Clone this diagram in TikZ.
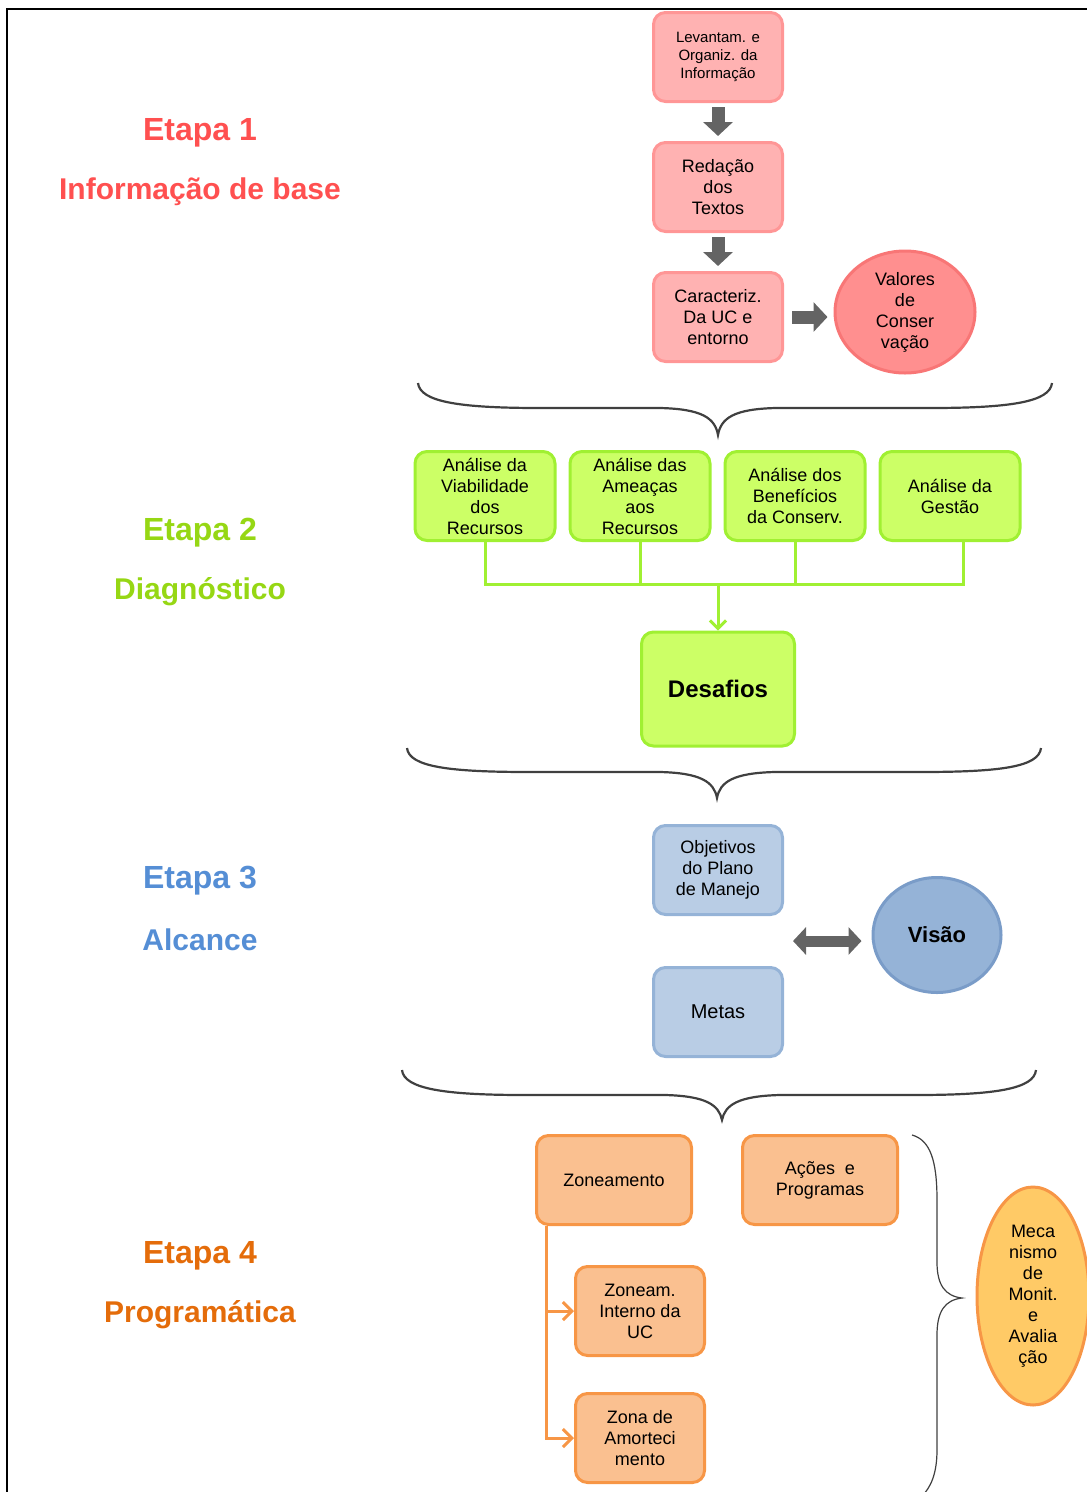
\documentclass[tikz,border=0pt]{standalone}
\usepackage{fontspec}
\setmainfont{Liberation Sans}
\usetikzlibrary{positioning,arrows.meta,shapes.geometric,calc}
\definecolor{redtxt}{RGB}{255,80,80}
\definecolor{greentxt}{RGB}{150,215,20}
\definecolor{bluetxt}{RGB}{85,142,213}
\definecolor{orangetxt}{RGB}{228,108,10}
\definecolor{pinkfill}{RGB}{255,178,178}
\definecolor{pinkline}{RGB}{255,150,150}
\definecolor{valfill}{RGB}{255,143,143}
\definecolor{valline}{RGB}{248,118,118}
\definecolor{limefill}{RGB}{204,255,102}
\definecolor{limeline}{RGB}{160,240,50}
\definecolor{bluefill}{RGB}{185,205,229}
\definecolor{blueline}{RGB}{149,179,215}
\definecolor{visfill}{RGB}{149,179,215}
\definecolor{visline}{RGB}{122,156,200}
\definecolor{orfill}{RGB}{250,192,144}
\definecolor{orline}{RGB}{247,150,70}
\definecolor{goldfill}{RGB}{255,202,102}
\definecolor{blkgray}{RGB}{100,100,100}
\definecolor{bracegray}{RGB}{64,64,64}

\begin{document}
\begin{tikzpicture}[x=1pt,y=-1pt,
   node distance=38pt,
   box/.style={draw,rounded corners=12pt,line width=3pt,minimum width=129pt,minimum height=89pt,align=center,font=\fontsize{18}{21}\selectfont},
   pinkbox/.style={box,fill=pinkfill,draw=pinkline},
   limebox/.style={box,fill=limefill,draw=limeline,minimum width=140pt},
   bluebox/.style={box,fill=bluefill,draw=blueline},
   orbox/.style={box,fill=orfill,draw=orline},
   blob/.style={ellipse,draw,line width=3pt,inner sep=0pt,align=center,font=\fontsize{18}{21}\selectfont},
   etapa/.style={font=\bfseries\fontsize{32}{36}\selectfont},
   sub/.style={font=\bfseries\fontsize{30}{34}\selectfont},
   blk/.style={line width=13pt,blkgray,-{Triangle[length=14pt,width=29pt]}},
   dblk/.style={line width=11pt,blkgray,{Triangle[length=13pt,width=27pt]}-{Triangle[length=13pt,width=27pt]}},
   brace/.style={draw=bracegray,line width=2.2pt},
   gline/.style={draw=limeline,line width=3pt},
   oline/.style={draw=orline,line width=3pt},
]
\useasboundingbox (0,0) rectangle (1087,1492);
\draw[line width=1.2pt] (7,1492) -- (7,9) -- (1087,9);

% stage labels
\node[etapa,text=redtxt] (et1) at (200,133) {Etapa 1};
\node[sub,text=redtxt] (sub1) at (200,192) {Informação de base};
\node[etapa,text=greentxt] (et2) at (200,533) {Etapa 2};
\node[sub,text=greentxt] (sub2) at (200,592) {Diagnóstico};
\node[etapa,text=bluetxt] (et3) at (200,881) {Etapa 3};
\node[sub,text=bluetxt] (sub3) at (200,940) {Alcance};
\node[etapa,text=orangetxt] (et4) at (200,1256) {Etapa 4};
\node[sub,text=orangetxt] (sub4) at (200,1315) {Programática};

% etapa 1
\node[pinkbox,font=\fontsize{15}{18}\selectfont] (lev) at (718,57)
   {Levantam. e\\Organiz. da\\Informação};
\node[pinkbox,below=of lev] (red) {Redação\\dos\\Textos};
\node[pinkbox,below=of red] (car) {Caracteriz.\\Da UC e\\entorno};
\node[blob,fill=valfill,draw=valline,minimum width=140pt,minimum height=122pt] (val) at (905,312)
   {Valores\\de\\Conser\\vação};

\draw[blk,shorten <=4pt,shorten >=5pt] (lev) -- (red);
\draw[blk,shorten <=4pt,shorten >=5pt] (red) -- (car);
\draw[blk,shorten <=8pt,shorten >=6pt] (car.east) -- (car.east -| val.west);

\draw[brace] (418,383) .. controls (420,402) and (460,408) .. (540,408) -- (660,408)
   .. controls (702,409) and (715,418) .. (718,435) .. controls (721,418) and (734,409) .. (776,408)
   -- (930,408) .. controls (1010,408) and (1050,402) .. (1052,383);

% etapa 2
\node[limebox] (anv) at (485,496) {Análise da\\Viabilidade\\dos\\Recursos};
\node[limebox] (ame) at (640,496) {Análise das\\Ameaças\\aos\\Recursos};
\node[limebox] (ben) at (795,496) {Análise dos\\Benefícios\\da Conserv.};
\node[limebox] (ges) at (950,496) {Análise da\\Gestão};
\node[limebox,minimum width=153pt,minimum height=114pt,font=\bfseries\fontsize{24}{28}\selectfont] (des) at (718,689) {Desafios};
\coordinate (bus) at (718,584);

\draw[gline] (anv.south) -- (anv.south |- bus) -- ([xshift=13pt]ges.south |- bus) -- ([xshift=13pt]ges.south);
\draw[gline] (ame.south) -- (ame.south |- bus);
\draw[gline] (ben.south) -- (ben.south |- bus);
\draw[gline,-{Straight Barb[length=8pt,width=16pt]}] (bus) -- (des.north);

\draw[brace] (407,748) .. controls (409,767) and (450,772) .. (530,772) -- (660,772)
   .. controls (701,773) and (714,782) .. (717,798) .. controls (720,782) and (733,773) .. (775,772)
   -- (920,772) .. controls (1000,772) and (1039,767) .. (1041,748);

% etapa 3
\node[bluebox] (obj) at (718,870) {Objetivos\\do Plano\\de Manejo};
\node[bluebox,font=\fontsize{20}{24}\selectfont] (met) at (718,1012) {Metas};
\node[blob,fill=visfill,draw=visline,minimum width=128pt,minimum height=115pt,font=\bfseries\fontsize{22}{26}\selectfont] (vis) at (937,935) {Visão};
\coordinate (om) at ($(obj.south east)!0.5!(met.north east)$);

\draw[dblk,shorten <=9pt,shorten >=10pt] (om) -- (vis.west |- om);

\draw[brace] (402,1070) .. controls (404,1089) and (445,1095) .. (525,1095) -- (665,1095)
   .. controls (706,1096) and (719,1105) .. (722,1120) .. controls (725,1105) and (738,1096) .. (780,1095)
   -- (915,1095) .. controls (995,1095) and (1034,1089) .. (1036,1070);

% etapa 4
\node[orbox,minimum width=155pt] (zon) at (614,1180) {Zoneamento};
\node[orbox,minimum width=155pt] (acp) at (820,1180) {Ações\ \ e\\Programas};
\node[orbox] (zint) at (640,1311) {Zoneam.\\Interno da\\UC};
\node[orbox] (zam) at (640,1438) {Zona de\\Amorteci\\mento};
\node[blob,fill=goldfill,draw=orline,minimum width=112pt,minimum height=218pt] (mec) at (1033,1296)
   {Meca\\nismo\\de\\Monit.\\e\\Avalia\\ção};

\draw[oline,-{Straight Barb[length=9pt,width=18pt]}] ([xshift=11pt]zon.south west) |- (zint.west);
\draw[oline,-{Straight Barb[length=9pt,width=18pt]}] ([xshift=11pt]zon.south west) |- (zam.west);

\draw[draw=bracegray,line width=1.2pt] (912,1135) .. controls (930,1140) and (937,1160) .. (937,1200)
   -- (937,1262) .. controls (937,1285) and (945,1296) .. (962,1298)
   .. controls (945,1300) and (937,1311) .. (937,1335) -- (937,1450)
   .. controls (937,1475) and (930,1488) .. (922,1496);
\end{tikzpicture}
\end{document}
